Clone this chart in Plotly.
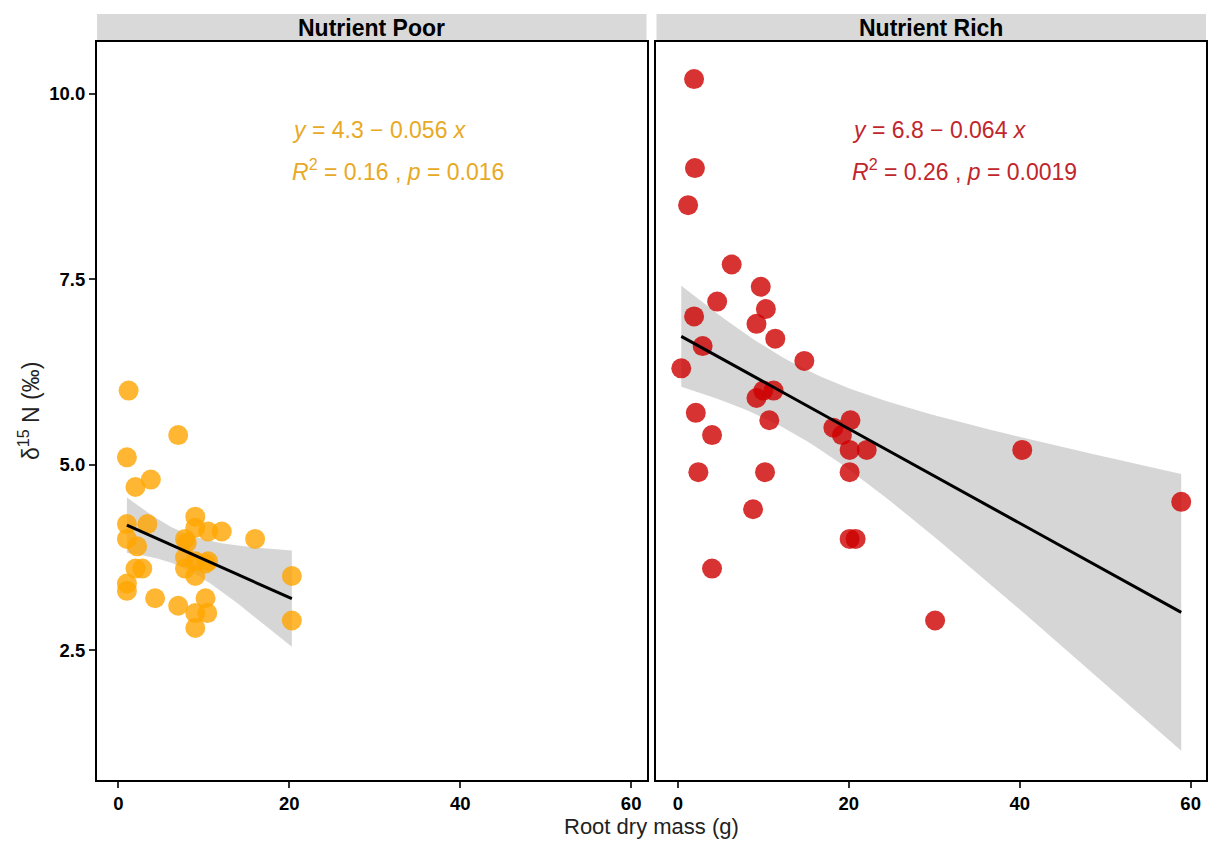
import numpy as np
import plotly.graph_objects as go
from plotly.subplots import make_subplots

# ---- data ----
poor_x = [1.2, 7.0, 1.0, 2.0, 3.8, 1.0, 3.4, 1.0, 2.2, 9.0, 10.5, 12.1, 16.0, 7.8,
          9.0, 8.0, 7.8, 9.0, 10.5, 7.8, 9.0, 2.0, 2.8, 1.0, 1.0, 4.3, 7.0, 10.2,
          9.0, 10.4, 9.0, 20.3, 20.3, 10.2]
poor_y = [6.0, 5.4, 5.1, 4.7, 4.8, 4.2, 4.2, 4.0, 3.9, 4.3, 4.1, 4.1, 4.0, 4.0,
          4.15, 3.95, 3.75, 3.7, 3.7, 3.6, 3.5, 3.6, 3.6, 3.4, 3.3, 3.2, 3.1, 3.2,
          3.0, 3.0, 2.8, 3.5, 2.9, 3.67]

rich_x = [1.9, 2.0, 1.2, 6.3, 9.7, 4.6, 10.3, 1.9, 9.2, 11.4, 2.9, 14.8, 0.4,
          9.2, 10.0, 11.2, 2.1, 10.7, 4.0, 20.2, 18.2, 19.2, 20.1, 22.1, 2.4,
          10.2, 20.1, 8.8, 20.1, 20.8, 4.0, 30.1, 40.3, 58.9]
rich_y = [10.2, 9.0, 8.5, 7.7, 7.4, 7.2, 7.1, 7.0, 6.9, 6.7, 6.6, 6.4, 6.3,
          5.9, 6.0, 6.0, 5.7, 5.6, 5.4, 5.6, 5.5, 5.4, 5.2, 5.2, 4.9,
          4.9, 4.9, 4.4, 4.0, 4.0, 3.6, 2.9, 5.2, 4.5]

panels = ["Nutrient Poor", "Nutrient Rich"]
colors = ["rgba(255,165,0,0.8)", "rgba(205,0,0,0.8)"]
text_colors = ["#E8A925", "#C0262B"]
eq_lines = [
    ["<i>y</i> = 4.3 \u2212 0.056 <i>x</i>", "<i>R</i><sup>2</sup> = 0.16 , <i>p</i> = 0.016"],
    ["<i>y</i> = 6.8 \u2212 0.064 <i>x</i>", "<i>R</i><sup>2</sup> = 0.26 , <i>p</i> = 0.0019"],
]
y_ticks = [2.5, 5.0, 7.5, 10.0]
x_ticks = [0, 20, 40, 60]
T_CRIT = 2.04
FONT = "Liberation Sans, Arial"


def lm_band(x, y):
    x = np.asarray(x, float)
    y = np.asarray(y, float)
    n = len(x)
    xm = x.mean()
    sxx = ((x - xm) ** 2).sum()
    b = ((x - xm) * (y - y.mean())).sum() / sxx
    a = y.mean() - b * xm
    resid = y - (a + b * x)
    s = np.sqrt((resid ** 2).sum() / (n - 2))
    gx = np.linspace(x.min(), x.max(), 80)
    gy = a + b * gx
    se = s * np.sqrt(1.0 / n + (gx - xm) ** 2 / sxx)
    return gx, gy, gy - T_CRIT * se, gy + T_CRIT * se


fig = make_subplots(rows=1, cols=2, shared_yaxes=True, horizontal_spacing=10 / 1111)

for i, (xs, ys) in enumerate([(poor_x, poor_y), (rich_x, rich_y)]):
    col = i + 1
    gx, gy, lo, hi = lm_band(xs, ys)
    fig.add_trace(go.Scatter(x=np.concatenate([gx, gx[::-1]]), y=np.concatenate([hi, lo[::-1]]),
                             fill="toself", fillcolor="rgba(153,153,153,0.4)",
                             line=dict(width=0), hoverinfo="skip", showlegend=False),
                  row=1, col=col)
    fig.add_trace(go.Scatter(x=xs, y=ys, mode="markers",
                             marker=dict(size=20, color=colors[i], line=dict(width=0)),
                             showlegend=False), row=1, col=col)
    fig.add_trace(go.Scatter(x=gx, y=gy, mode="lines", line=dict(color="black", width=3),
                             showlegend=False), row=1, col=col)
    xref = "x" if i == 0 else "x2"
    yref = "y" if i == 0 else "y2"
    for j, (txt, yy) in enumerate(zip(eq_lines[i], [9.51, 8.97])):
        fig.add_annotation(x=20.1, y=yy, xref=xref, yref=yref, text=txt, showarrow=False,
                           xanchor="left", yanchor="middle",
                           font=dict(family=FONT, size=23, color=text_colors[i]))

axis_common = dict(showgrid=False, zeroline=False, showline=True, linecolor="black", linewidth=2,
                   mirror=True, ticks="outside", ticklen=6, tickwidth=1.5, tickcolor="#333",
                   tickfont=dict(family=FONT, size=18.5, color="black", weight="bold"))

fig.update_xaxes(range=[-2.5, 61.8], tickvals=x_ticks, ticktext=[str(v) for v in x_ticks], **axis_common)
fig.update_yaxes(range=[0.75, 10.7], tickvals=y_ticks, ticktext=[f"{v:.1f}" for v in y_ticks], **axis_common)
fig.update_yaxes(showticklabels=False, ticks="", row=1, col=2)

# strips
dom1 = fig.layout.xaxis.domain
dom2 = fig.layout.xaxis2.domain
strip_h = 28 / 738
for dom, name in zip([dom1, dom2], panels):
    fig.add_shape(type="rect", xref="paper", yref="paper", x0=dom[0], x1=dom[1], y0=1.0015,
                  y1=1 + strip_h, fillcolor="#D9D9D9", line=dict(width=0), layer="below")
    fig.add_annotation(xref="paper", yref="paper", x=(dom[0] + dom[1]) / 2, y=1 + strip_h / 2,
                       text="<b>" + name + "</b>", showarrow=False,
                       xanchor="center", yanchor="middle",
                       font=dict(family=FONT, size=23, color="black"))

fig.add_annotation(xref="paper", yref="paper", x=0.5, y=-46 / 738, text="Root dry mass (g)",
                   showarrow=False, xanchor="center", yanchor="middle",
                   font=dict(family=FONT, size=22, color="#222"))
fig.add_annotation(xref="paper", yref="paper", x=-68 / 1111, y=0.5,
                   text="\u03b4<sup>15</sup> N (\u2030)", textangle=-90, showarrow=False,
                   xanchor="center", yanchor="middle",
                   font=dict(family=FONT, size=23, color="#222"))

fig.update_layout(width=1215, height=844, margin=dict(l=97, r=7, t=42, b=64),
                  paper_bgcolor="white", plot_bgcolor="white", showlegend=False)

fig.write_html("out.html")
